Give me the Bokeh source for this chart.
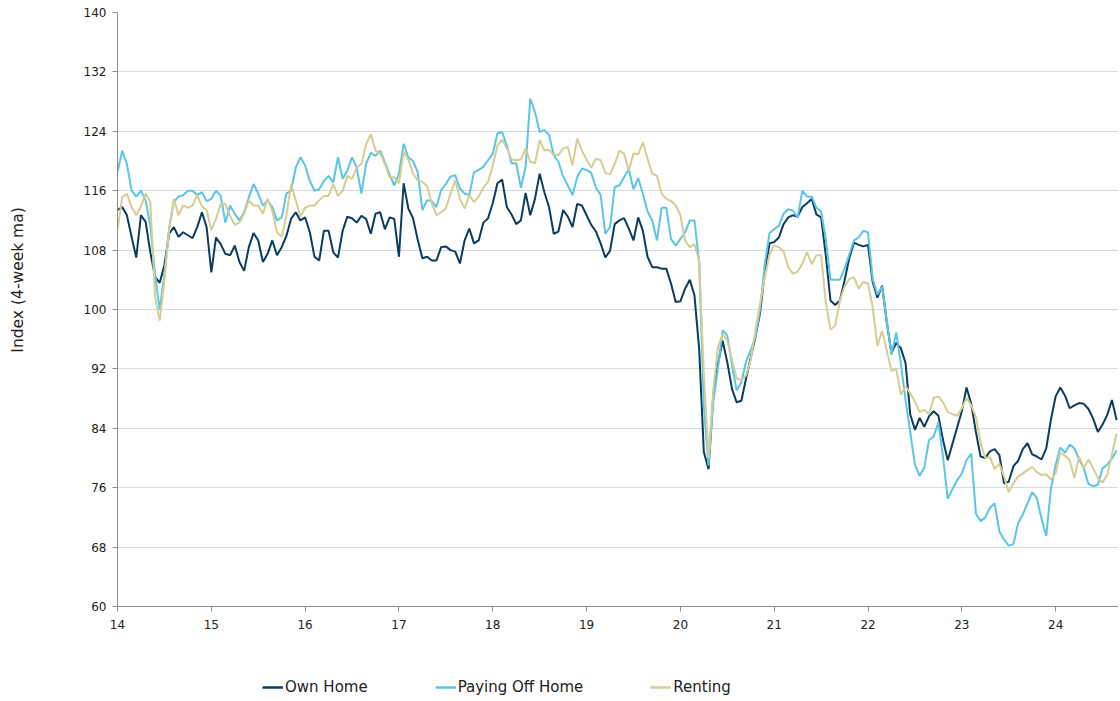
from bokeh.plotting import figure
from bokeh.layouts import column
from bokeh.models import FixedTicker, Legend, LegendItem, ColumnDataSource
from bokeh.embed import file_html
from bokeh.resources import INLINE

# Samples every 0.05 year starting at year 14.00
start_year = 14.0
step = 0.05

own_home = [
    113.4, 113.8, 112.7, 109.8, 107.0, 112.7, 111.8, 107.7, 104.4, 103.6, 106.0, 110.2, 111.1, 109.8, 110.4, 110.0, 109.6, 111.1, 113.1, 111.1, 105.0, 109.7,
    108.8, 107.5, 107.3, 108.6, 106.4, 105.2, 108.4, 110.3, 109.3, 106.4, 107.5, 109.3, 107.3, 108.4, 109.9, 112.2, 113.1, 112.0, 112.4, 110.4, 107.1,
    106.6, 110.6, 110.6, 107.7, 107.0, 110.6, 112.5, 112.3, 111.7, 112.6, 112.2, 110.2, 112.9, 113.1, 110.8, 112.4, 112.2,
    107.1, 117.0, 113.6, 112.3, 109.4, 106.9, 107.1, 106.6, 106.6, 108.4, 108.5, 108.0, 107.8, 106.2, 109.3, 110.9, 108.9, 109.3, 111.7, 112.3, 114.3, 117.0, 117.5,
    113.8, 112.8, 111.5, 112.0, 115.7, 112.7, 114.9, 118.3, 115.8, 113.8, 110.2, 110.5, 113.4, 112.5, 111.1, 114.2, 114.0, 112.7, 111.4, 110.5, 108.9,
    107.0, 107.9, 111.5, 112.0, 112.3, 110.9, 109.3, 112.4, 110.6, 107.1, 105.7, 105.7, 105.5, 105.5, 103.5, 101.0, 101.1, 102.8, 104.0, 101.9,
    94.7, 80.8, 78.5, 88.4, 92.7, 95.8, 92.9, 89.3, 87.5, 87.7, 90.7, 93.5, 96.3, 99.6, 105.0, 108.9, 109.1, 109.7, 111.5,
    112.4, 112.7, 112.5, 113.8, 114.3, 114.9, 112.8, 112.4, 107.3, 101.2, 100.6, 101.2, 103.9, 106.9, 109.0, 108.7, 108.5, 108.7, 103.7, 101.6,
    103.2, 98.3, 94.1, 95.5, 94.8, 92.8, 85.9, 83.8, 85.4, 84.2, 85.6, 86.3, 85.7, 82.4, 79.7, 81.9, 84.1, 86.3, 89.5, 87.3, 83.5,
    80.2, 80.0, 80.9, 81.2, 80.4, 76.6, 76.8, 78.9, 79.6, 81.2, 82.0, 80.5, 80.2, 79.8, 81.3, 85.2, 88.3, 89.5, 88.4, 86.7,
    87.1, 87.4, 87.3, 86.6, 85.3, 83.5, 84.5, 85.8, 87.8, 85.1,
]

paying_off_home = [
    118.5, 121.4, 119.6, 116.0, 115.2, 116.0, 114.7, 111.3, 104.8, 99.9, 104.8, 110.9, 114.5, 115.2, 115.4, 116.0, 116.0, 115.4, 115.8, 114.6, 114.9, 116.0,
    115.3, 111.7, 114.0, 112.9, 112.0, 113.1, 115.1, 116.9, 115.6, 114.0, 114.7, 113.8, 112.0, 112.4, 115.6, 116.0, 119.1, 120.5, 119.4, 117.3, 116.0,
    116.2, 117.3, 118.0, 117.1, 120.5, 117.6, 118.7, 120.5, 119.1, 115.6, 119.6, 121.1, 120.7, 121.4, 119.8, 118.2, 116.7,
    118.3, 122.3, 120.5, 120.0, 118.5, 113.4, 114.7, 114.6, 113.8, 116.1, 116.9, 117.9, 118.1, 116.3, 115.6, 115.4, 118.5, 118.8, 119.2, 120.1, 121.0, 123.7, 123.9,
    122.1, 119.7, 119.7, 116.4, 119.2, 128.4, 126.6, 123.9, 124.2, 123.5, 120.8, 119.9, 117.9, 116.7, 115.4, 117.8, 119.0, 118.8, 118.4, 116.4, 115.4,
    110.2, 111.1, 116.5, 116.7, 117.8, 118.9, 116.2, 117.7, 115.6, 113.2, 112.0, 109.3, 113.7, 113.7, 109.5, 108.6, 109.5, 110.4, 112.0, 112.0,
    106.4, 86.9, 79.0, 87.5, 92.0, 97.2, 96.5, 92.5, 89.1, 90.2, 93.0, 94.5, 96.3, 100.1, 106.1, 110.3, 110.8, 111.3, 112.9,
    113.5, 113.3, 112.4, 116.0, 115.2, 115.2, 113.7, 113.2, 109.5, 104.0, 104.0, 104.0, 105.5, 107.4, 109.3, 109.7, 110.6, 110.4, 104.1, 102.0,
    103.1, 98.5, 93.9, 96.9, 92.7, 87.8, 83.5, 79.1, 77.6, 78.7, 82.4, 82.9, 84.8, 80.1, 74.5, 75.8, 77.0, 77.9, 79.7, 80.6, 72.5,
    71.5, 72.0, 73.3, 73.9, 70.1, 69.0, 68.2, 68.4, 71.2, 72.4, 73.9, 75.4, 74.6, 71.8, 69.5, 75.9, 79.1, 81.4, 80.7, 81.8,
    81.3, 79.8, 78.6, 76.5, 76.2, 76.4, 78.6, 79.1, 79.9, 81.0,
]

renting = [
    110.7, 115.1, 115.6, 113.8, 112.7, 113.9, 115.6, 114.5, 101.7, 98.5, 103.9, 110.7, 114.9, 112.7, 114.0, 113.7, 114.0, 115.4, 113.9, 113.4, 110.7, 112.2,
    114.2, 114.2, 112.6, 111.4, 111.7, 112.9, 114.7, 114.0, 114.0, 112.9, 114.9, 113.3, 110.4, 109.8, 112.6, 116.9, 114.7, 112.5, 113.7, 114.0, 114.0,
    114.7, 115.3, 115.3, 116.9, 115.3, 116.0, 118.0, 117.6, 119.1, 119.6, 122.3, 123.6, 121.4, 121.0, 119.6, 117.8, 117.8,
    117.0, 121.2, 120.2, 118.3, 117.4, 117.2, 116.6, 114.3, 112.7, 113.1, 113.6, 115.6, 117.4, 114.9, 113.6, 115.4, 114.5, 115.2, 116.4, 117.2, 119.4, 122.1, 122.9,
    121.7, 120.2, 120.1, 120.2, 121.7, 119.9, 119.7, 122.8, 121.4, 121.5, 120.8, 120.8, 121.7, 121.9, 119.4, 123.0, 121.4, 120.2, 119.1, 120.3, 120.1,
    118.4, 118.2, 119.6, 121.4, 121.0, 118.7, 121.0, 120.9, 122.5, 120.3, 118.3, 118.0, 115.6, 114.9, 114.6, 114.0, 112.7, 109.3, 108.4, 108.8,
    106.6, 91.3, 80.0, 89.1, 94.9, 96.7, 95.8, 93.2, 90.7, 90.5, 91.1, 93.2, 97.2, 100.8, 104.3, 107.4, 108.6, 108.4, 107.8,
    105.7, 104.8, 105.1, 106.2, 107.7, 106.1, 107.3, 107.3, 101.0, 97.3, 97.8, 101.2, 103.1, 104.1, 104.3, 102.8, 103.7, 103.5, 100.3, 95.1,
    97.1, 94.5, 91.7, 92.0, 88.5, 89.7, 88.7, 87.6, 86.2, 86.5, 85.9, 88.1, 88.3, 87.5, 86.2, 85.9, 85.7, 86.7, 88.1, 87.1, 85.5,
    82.0, 80.0, 80.1, 78.5, 79.2, 77.5, 75.4, 76.6, 77.5, 77.9, 78.4, 78.8, 78.1, 77.7, 77.8, 77.1, 78.0, 80.7, 80.3, 79.7,
    77.3, 80.2, 78.7, 79.8, 78.6, 77.3, 76.7, 77.7, 80.5, 83.3,
]

x_ticks = [14, 15, 16, 17, 18, 19, 20, 21, 22, 23, 24]
y_ticks = [60, 68, 76, 84, 92, 100, 108, 116, 124, 132, 140]
series_names = ["Own Home", "Paying Off Home", "Renting"]
series_colors = ["#0B3C5D", "#5BC5E6", "#D5CD93"]

FONT = "DejaVu Sans"

# ---------------- main chart ----------------
p = figure(width=1118, height=634, output_backend="svg", toolbar_location=None,
           x_range=(14, 24.67), y_range=(60, 140))
p.min_border_left = 117
p.min_border_top = 12
p.min_border_right = 0
p.min_border_bottom = 28
p.outline_line_color = None
p.background_fill_color = "white"

for name, vals, col in zip(series_names, [own_home, paying_off_home, renting], series_colors):
    xs = [start_year + step * i for i in range(len(vals))]
    src = ColumnDataSource(dict(x=xs, y=vals))
    p.line("x", "y", source=src, line_color=col, line_width=2)

p.xgrid.visible = False
p.ygrid.grid_line_color = "#D3DBE1"
p.ygrid.grid_line_width = 1

p.xaxis.ticker = FixedTicker(ticks=x_ticks)
p.yaxis.ticker = FixedTicker(ticks=y_ticks)
p.xaxis.minor_tick_line_color = None
p.yaxis.minor_tick_line_color = None
for ax in (p.xaxis, p.yaxis):
    ax.axis_line_color = "#8C8C8C"
    ax.major_tick_line_color = "#8C8C8C"
    ax.major_tick_in = 0
    ax.major_tick_out = 5
    ax.major_label_text_font = FONT
    ax.major_label_text_font_size = "12px"
    ax.major_label_text_color = "#222222"
p.xaxis.major_label_standoff = 8
p.yaxis.major_label_standoff = 6

# y-axis title (leading no-break spaces shift it upward like the reference)
p.yaxis.axis_label = "\u00a0" * 12 + "Index (4-week ma)"
p.yaxis.axis_label_text_font = FONT
p.yaxis.axis_label_text_font_size = "15.5px"
p.yaxis.axis_label_text_font_style = "normal"
p.yaxis.axis_label_text_color = "#222222"
p.yaxis.axis_label_standoff = 54

# ---------------- legend strip ----------------
leg_h = 66
lf = figure(width=1118, height=leg_h, output_backend="svg", toolbar_location=None,
            x_range=(0, 1), y_range=(0, 1), min_border=0)
lf.min_border_left = 0
lf.min_border_right = 0
lf.min_border_top = 0
lf.min_border_bottom = 0
lf.axis.visible = False
lf.grid.visible = False
lf.outline_line_color = None

items = []
for name, col in zip(series_names, series_colors):
    # legend-only swatch renderer, placed outside the visible range
    r = lf.line(x=[5, 6], y=[5, 6], line_color=col, line_width=2.5)
    items.append(LegendItem(label=name, renderers=[r]))

legend = Legend(items=items, orientation="horizontal", location=(145, 3),
                spacing=67, glyph_width=21, glyph_height=20, label_standoff=2,
                padding=0, margin=0, border_line_color=None,
                background_fill_alpha=0,
                label_text_font=FONT, label_text_font_size="15px",
                label_text_color="#222222")
lf.add_layout(legend, "center")

layout = column(p, lf, spacing=0)
open("out.html", "w").write(file_html(layout, INLINE))
